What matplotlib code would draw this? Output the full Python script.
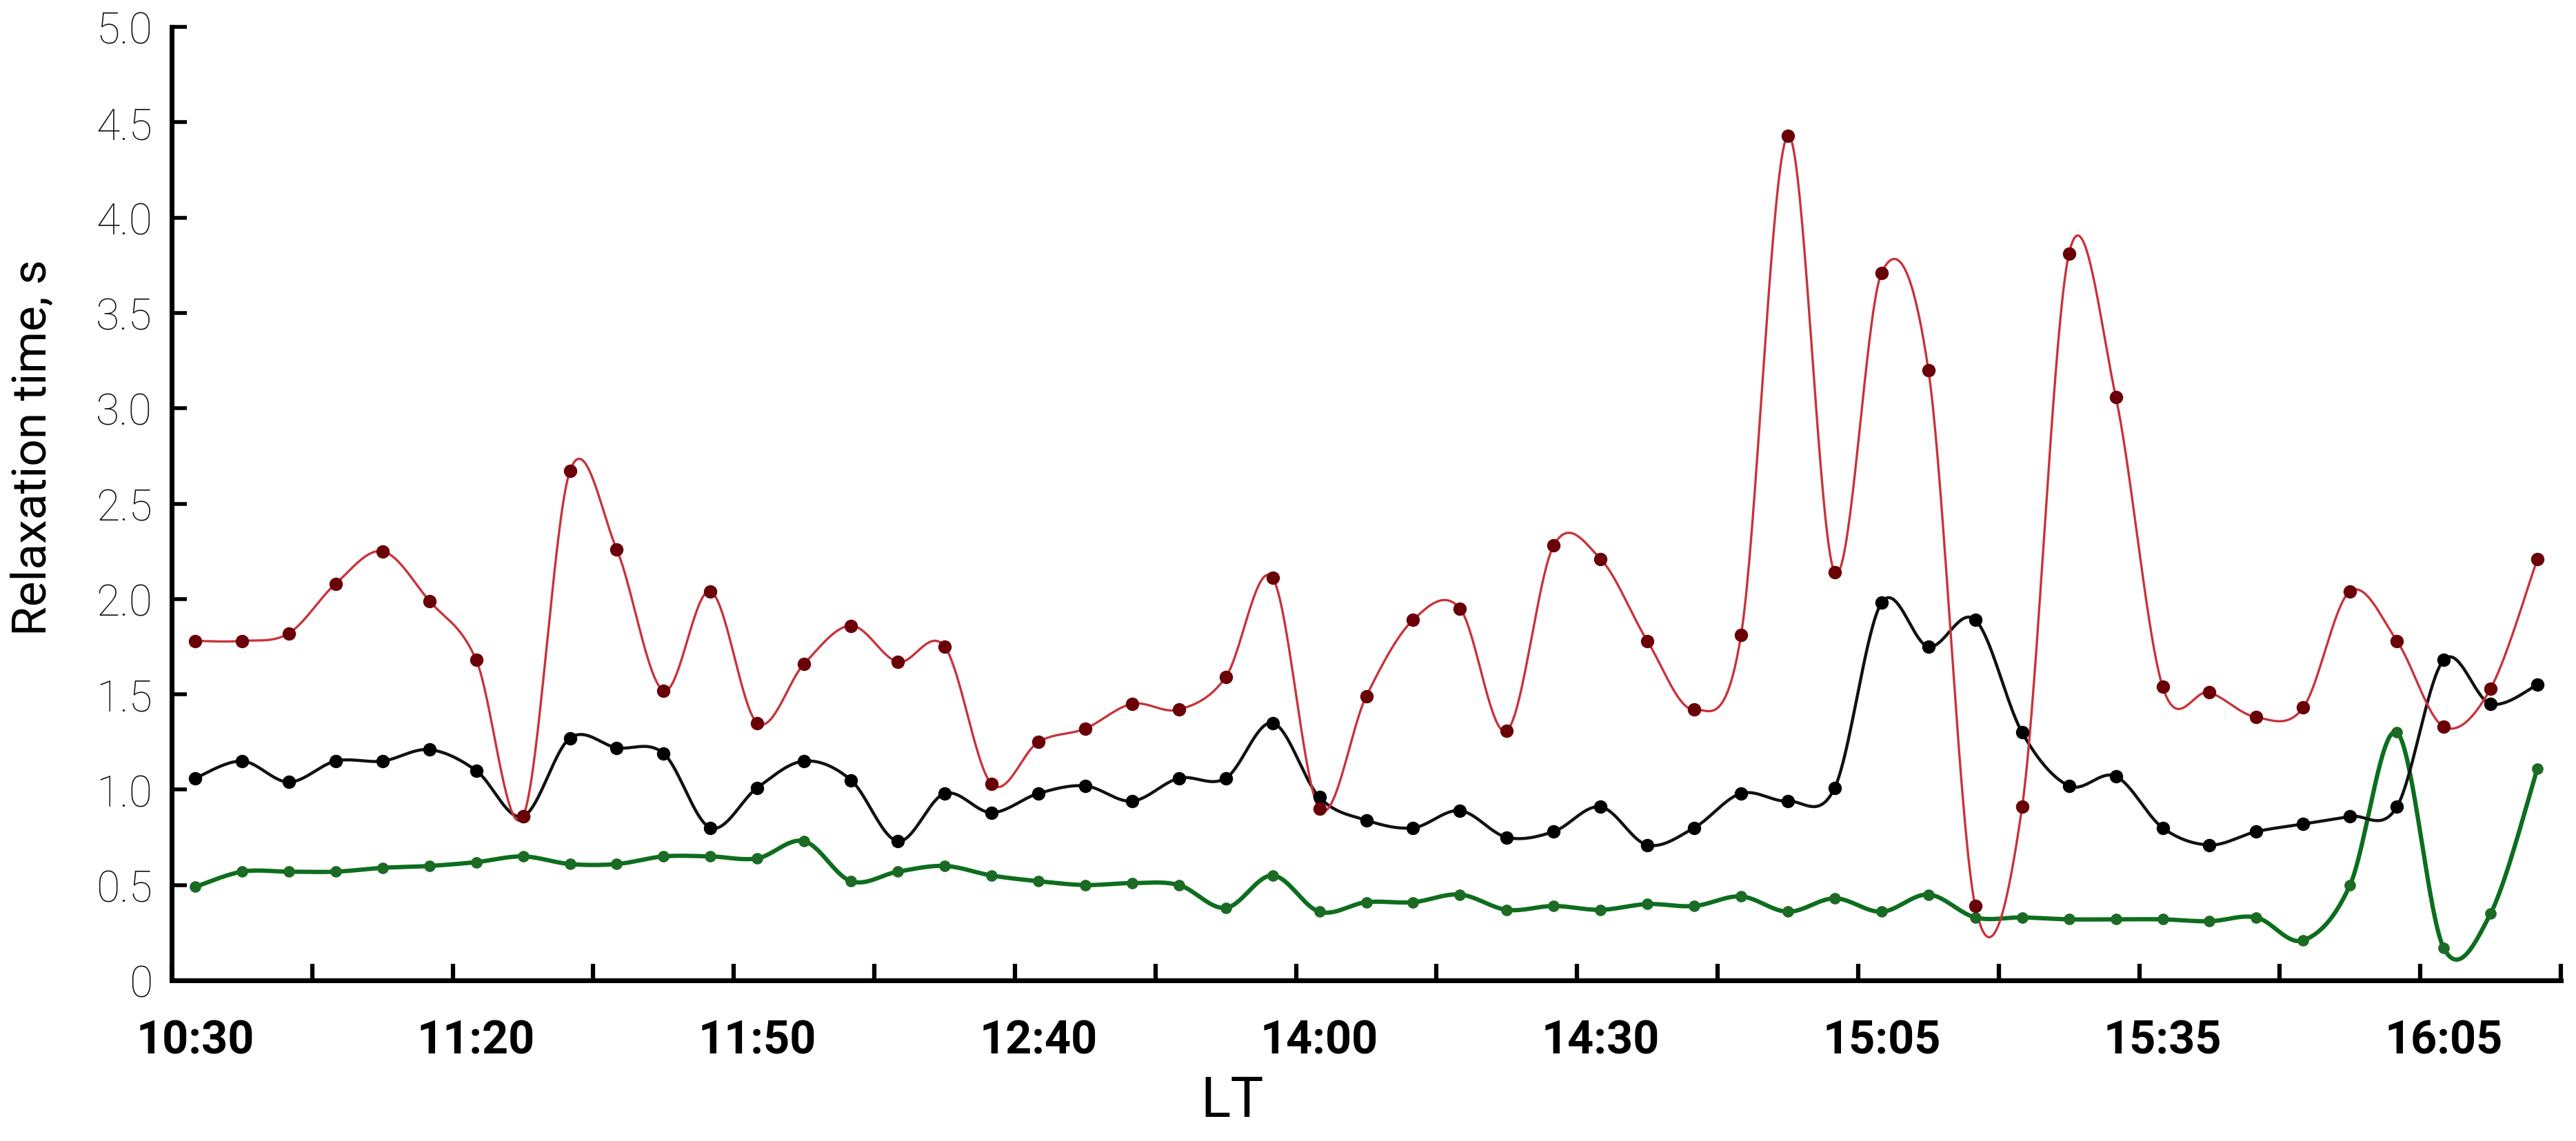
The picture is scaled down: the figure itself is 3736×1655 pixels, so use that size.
import numpy as np
import matplotlib
matplotlib.use("Agg")
import matplotlib.pyplot as plt

# ---------------- data ----------------
tick_labels = ['10:30', '11:20', '11:50', '12:40', '14:00', '14:30', '15:05', '15:35', '16:05']

red = [1.78, 1.78, 1.82, 2.08, 2.25, 1.99, 1.68, 0.86, 2.67, 2.26,
       1.52, 2.04, 1.35, 1.66, 1.86, 1.67, 1.75, 1.03, 1.25, 1.32,
       1.45, 1.42, 1.59, 2.11, 0.90, 1.49, 1.89, 1.95, 1.31, 2.28,
       2.21, 1.78, 1.42, 1.81, 4.43, 2.14, 3.71, 3.20, 0.39, 0.91,
       3.81, 3.06, 1.54, 1.51, 1.38, 1.43, 2.04, 1.78, 1.33, 1.53,
       2.21]

black = [1.06, 1.15, 1.04, 1.15, 1.15, 1.21, 1.10, 0.86, 1.27, 1.22,
         1.19, 0.80, 1.01, 1.15, 1.05, 0.73, 0.98, 0.88, 0.98, 1.02,
         0.94, 1.06, 1.06, 1.35, 0.96, 0.84, 0.80, 0.89, 0.75, 0.78,
         0.91, 0.71, 0.80, 0.98, 0.94, 1.01, 1.98, 1.75, 1.89, 1.30,
         1.02, 1.07, 0.80, 0.71, 0.78, 0.82, 0.86, 0.91, 1.68, 1.45,
         1.55]

green = [0.49, 0.57, 0.57, 0.57, 0.59, 0.60, 0.62, 0.65, 0.61, 0.61,
         0.65, 0.65, 0.64, 0.73, 0.52, 0.57, 0.60, 0.55, 0.52, 0.50,
         0.51, 0.50, 0.38, 0.55, 0.36, 0.41, 0.41, 0.45, 0.37, 0.39,
         0.37, 0.40, 0.39, 0.44, 0.36, 0.43, 0.36, 0.45, 0.33, 0.33,
         0.32, 0.32, 0.32, 0.31, 0.33, 0.21, 0.50, 1.30, 0.17, 0.35,
         1.11]


def smooth(ax, vals, n=40, f=1.0 / 6.0):
    """Excel-like smoothed line (Catmull-Rom Bezier segments),
    computed in display space through the axes transform."""
    x = np.arange(len(vals), dtype=float)
    P = ax.transData.transform(np.column_stack([x, np.asarray(vals, float)]))
    N = len(P)
    t = np.linspace(0, 1, n)[:, None]
    pieces = []
    for i in range(N - 1):
        p0 = P[max(i - 1, 0)]
        p1 = P[i]
        p2 = P[i + 1]
        p3 = P[min(i + 2, N - 1)]
        c1 = p1 + (p2 - p0) * f
        c2 = p2 - (p3 - p1) * f
        b = ((1 - t) ** 3) * p1 + 3 * ((1 - t) ** 2) * t * c1 + 3 * (1 - t) * t ** 2 * c2 + t ** 3 * p2
        pieces.append(b if i == 0 else b[1:])
    D = ax.transData.inverted().transform(np.vstack(pieces))
    return D[:, 0], D[:, 1]


W, H = 3736, 1656
fig = plt.figure(figsize=(W / 100, H / 100), dpi=100)
left, right, bottom, top = 249, 3714, 1423, 40
ax = fig.add_axes([left / W, 1 - bottom / H, (right - left) / W, (bottom - top) / H])

ax.set_xlim(-0.5, len(red) - 0.5)
ax.set_ylim(0, 5.0)

x = np.arange(len(red))

series = [
    (green, '#0d6e1e', '#1c6b25', 4.5, 11),
    (black, '#111111', '#000000', 3.2, 13),
    (red, '#c8323a', '#6a0008', 2.4, 13),
]
for vals, lc, mc, lw, ms in series:
    sx, sy = smooth(ax, vals)
    ax.plot(sx, sy, color=lc, lw=lw, solid_capstyle='round', zorder=2)
    ax.plot(x, vals, linestyle='none', marker='o', markersize=ms,
            markerfacecolor=mc, markeredgecolor=mc, zorder=3)

ax.set_xlim(-0.5, len(red) - 0.5)
ax.set_ylim(0, 5.0)

for s in ['top', 'right']:
    ax.spines[s].set_visible(False)
for s in ['left', 'bottom']:
    ax.spines[s].set_linewidth(5)
    ax.spines[s].set_color('black')
    ax.spines[s].set_capstyle('projecting')

yt = np.arange(0, 5.01, 0.5)
ax.set_yticks(yt)
ax.set_yticklabels(['0' if v == 0 else f'{v:.1f}' for v in yt],
                   fontfamily='Roboto', fontweight='light', fontsize=45, color='#111111')
ax.tick_params(axis='y', direction='in', length=16, width=4, pad=20)

# label positions (every 6 categories) and tick marks (every 3 categories, between categories)
ax.set_xticks(np.arange(0, len(red), 6))
ax.set_xticklabels(tick_labels, fontfamily='Roboto', fontweight='bold', fontsize=48)
ax.tick_params(axis='x', which='major', length=0, pad=40)
ax.set_xticks(np.arange(-0.5, len(red), 3), minor=True)
ax.tick_params(axis='x', which='minor', direction='in', length=17, width=4.5)

fig.text(1787 / W, 1 - 1598 / H, 'LT', fontfamily='Roboto', fontsize=58,
         ha='center', va='center')
fig.text(48 / W, 1 - 649 / H, 'Relaxation time, s', fontfamily='Roboto', fontsize=50,
         rotation=90, ha='center', va='center')

fig.savefig('out.png', dpi=100, facecolor='white')
